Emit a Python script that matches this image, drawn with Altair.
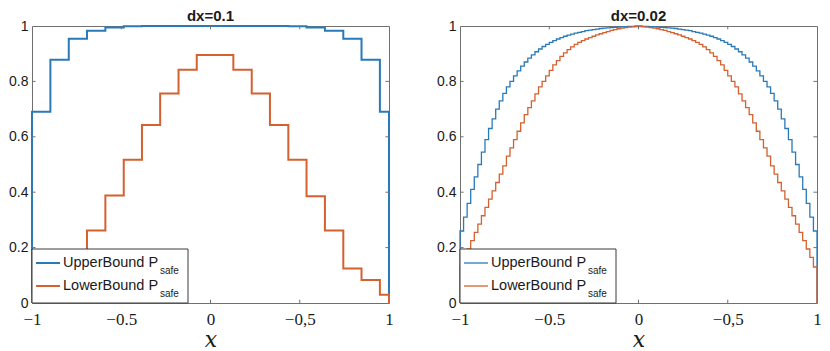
import altair as alt
import pandas as pd

# ---------------- data ----------------
series_names = ["UpperBound P", "LowerBound P"]
subscript_text = "safe"
series_colors = ["#2a7ab8", "#d4612f"]
panel_titles = ["dx=0.1", "dx=0.02"]

# dx = 0.1 panel: bin edges and step values
edges_01 = [-1.0, -0.897, -0.794, -0.692, -0.589, -0.486, -0.384, -0.282, -0.179,
            -0.077, 0.026, 0.128, 0.231, 0.333, 0.436, 0.538, 0.641, 0.744, 0.846,
            0.949, 1.0]
upper_01 = [0.69, 0.878, 0.954, 0.983, 0.995, 0.999, 1.0, 1.0, 1.0, 1.0,
            1.0, 1.0, 1.0, 1.0, 0.999, 0.995, 0.983, 0.954, 0.878, 0.69]
lower_01 = [0.03, 0.083, 0.125, 0.262, 0.388, 0.517, 0.643, 0.756, 0.842, 0.895,
            0.895, 0.842, 0.756, 0.643, 0.517, 0.385, 0.262, 0.125, 0.083, 0.03]

# dx = 0.02 panel: 100 step values each
upper_002 = [0.26, 0.31, 0.36, 0.41, 0.455, 0.50, 0.545, 0.59, 0.63, 0.665,
             0.70, 0.73, 0.757, 0.78, 0.80, 0.82, 0.838, 0.855, 0.87, 0.884,
             0.896, 0.907, 0.917, 0.926, 0.934, 0.941, 0.947, 0.953, 0.958, 0.963,
             0.967, 0.971, 0.974, 0.977, 0.980, 0.983, 0.985, 0.987, 0.989, 0.991,
             0.992, 0.993, 0.994, 0.995, 0.996, 0.997, 0.998, 0.999, 0.999, 1.0,
             1.0, 0.999, 0.999, 0.998, 0.997, 0.996, 0.995, 0.994, 0.993, 0.992,
             0.991, 0.989, 0.987, 0.985, 0.983, 0.980, 0.977, 0.974, 0.971, 0.967,
             0.963, 0.958, 0.953, 0.947, 0.941, 0.934, 0.926, 0.917, 0.907, 0.896,
             0.884, 0.87, 0.855, 0.838, 0.82, 0.80, 0.78, 0.757, 0.73, 0.70,
             0.665, 0.63, 0.59, 0.545, 0.50, 0.455, 0.41, 0.36, 0.31, 0.26]
lower_002 = [0.13, 0.165, 0.195, 0.225, 0.255, 0.285, 0.315, 0.345, 0.375, 0.405,
             0.435, 0.465, 0.495, 0.53, 0.56, 0.59, 0.62, 0.65, 0.68, 0.705,
             0.73, 0.755, 0.78, 0.80, 0.82, 0.84, 0.86, 0.875, 0.89, 0.903,
             0.915, 0.925, 0.934, 0.941, 0.947, 0.953, 0.958, 0.963, 0.968, 0.972,
             0.976, 0.980, 0.984, 0.987, 0.990, 0.992, 0.994, 0.996, 0.997, 0.998,
             0.998, 0.997, 0.996, 0.994, 0.992, 0.990, 0.987, 0.984, 0.980, 0.976,
             0.972, 0.968, 0.963, 0.958, 0.953, 0.947, 0.941, 0.934, 0.925, 0.915,
             0.903, 0.89, 0.875, 0.86, 0.84, 0.82, 0.80, 0.78, 0.755, 0.73,
             0.705, 0.68, 0.65, 0.62, 0.59, 0.56, 0.53, 0.495, 0.465, 0.435,
             0.405, 0.375, 0.345, 0.315, 0.285, 0.255, 0.225, 0.195, 0.165, 0.13]
edges_002 = [round(-1 + 0.02 * i, 4) for i in range(101)]

x_tick_values = [-1, -0.5, 0, 0.5, 1]
x_tick_labels = ["\u22121", "\u22120.5", "0", "\u22120,5", "1"]
y_tick_values = [0, 0.2, 0.4, 0.6, 0.8, 1]

# ---------------- styling ----------------
W, H = 357, 277
FRAME = "#707070"
TXT = "#1a1a1a"


def step_frame(edges, values, name):
    xs, ys = [edges[0]], [0.0]
    for i, v in enumerate(values):
        xs += [edges[i], edges[i + 1]]
        ys += [v, v]
    xs.append(edges[-1])
    ys.append(0.0)
    return pd.DataFrame({"x": xs, "y": ys, "order": list(range(len(xs))), "series": name})


label_expr = "[{}][indexof([{}], datum.value)]".format(
    ",".join("'" + s + "'" for s in x_tick_labels),
    ",".join(str(v) for v in x_tick_values),
)

X_AXIS = alt.Axis(
    values=x_tick_values, labelExpr=label_expr, title="x",
    labelFont="Liberation Serif", labelFontSize=17, labelColor=TXT,
    labelPadding=8, ticks=False, tickSize=0, domain=False, grid=False,
    titleFont="DejaVu Serif", titleFontStyle="italic",
    titleFontWeight="normal", titleFontSize=22, titleColor=TXT,
    titlePadding=2, labelFlush=False)
Y_AXIS = alt.Axis(
    values=y_tick_values, format="~g", title="",
    labelFont="Liberation Sans", labelFontSize=14, labelColor=TXT,
    labelPadding=4, ticks=False, tickSize=0, domain=False, grid=False,
    labelFlush=False)
XS = alt.Scale(domain=[-1, 1], nice=False, zero=False)
YS = alt.Scale(domain=[0, 1], nice=False, zero=False)


def panel(title, edges, up, lo, sw):
    df = pd.concat([step_frame(edges, up, series_names[0]),
                    step_frame(edges, lo, series_names[1])])
    lines = alt.Chart(df).mark_line(strokeWidth=sw, strokeJoin="miter").encode(
        x=alt.X("x:Q", scale=XS, axis=X_AXIS),
        y=alt.Y("y:Q", scale=YS, axis=Y_AXIS),
        color=alt.Color("series:N", scale=alt.Scale(domain=series_names, range=series_colors),
                        legend=None),
        order="order:Q",
    )

    # inward tick marks (MATLAB style)
    yt = pd.DataFrame({"v": y_tick_values[1:-1] * 2,
                       "a": [-1.0] * 4 + [0.98] * 4,
                       "b": [-0.98] * 4 + [1.0] * 4})
    yticks = alt.Chart(yt).mark_rule(color=FRAME, strokeWidth=1).encode(
        y=alt.Y("v:Q", scale=YS, axis=Y_AXIS),
        x=alt.X("a:Q", scale=XS, axis=X_AXIS), x2="b:Q")
    xt = pd.DataFrame({"v": x_tick_values[1:-1] * 2,
                       "a": [0.0] * 3 + [0.988] * 3,
                       "b": [0.012] * 3 + [1.0] * 3})
    xticks = alt.Chart(xt).mark_rule(color=FRAME, strokeWidth=1).encode(
        x=alt.X("v:Q", scale=XS, axis=X_AXIS),
        y=alt.Y("a:Q", scale=YS, axis=Y_AXIS), y2="b:Q")

    one = pd.DataFrame({"k": [0]})
    box = alt.Chart(one).mark_rect(fill="white", stroke="#3a3a3a", strokeWidth=1).encode(
        x=alt.value(0), x2=alt.value(156), y=alt.value(H - 54), y2=alt.value(H))
    legend_layers = [box]
    for i, (name, col) in enumerate(zip(series_names, series_colors)):
        yy = H - 40 + 23 * i
        legend_layers.append(alt.Chart(one).mark_rule(color=col, strokeWidth=sw).encode(
            x=alt.value(4), x2=alt.value(28), y=alt.value(yy)))
        legend_layers.append(alt.Chart(pd.DataFrame({"t": [name]})).mark_text(
            align="left", baseline="middle", font="Liberation Sans", fontSize=14.5,
            color=TXT).encode(x=alt.value(31), y=alt.value(yy), text="t:N"))
        legend_layers.append(alt.Chart(pd.DataFrame({"t": [subscript_text]})).mark_text(
            align="left", baseline="middle", font="Liberation Sans", fontSize=10,
            color=TXT).encode(x=alt.value(128), y=alt.value(yy + 8), text="t:N"))

    return alt.layer(lines, yticks, xticks, *legend_layers).properties(
        width=W, height=H,
        title=alt.TitleParams(title, font="Liberation Sans", fontSize=15, fontWeight="bold",
                              color=TXT, offset=-5, anchor="middle"))


left = panel(panel_titles[0], edges_01, upper_01, lower_01, 2.0)
right = panel(panel_titles[1], edges_002, upper_002, lower_002, 1.3)

chart = alt.hconcat(left, right, spacing=42).properties(padding=0).configure_view(
    stroke=FRAME, strokeWidth=1)

chart.save("out.html", embed_options={"renderer": "svg", "actions": False})
